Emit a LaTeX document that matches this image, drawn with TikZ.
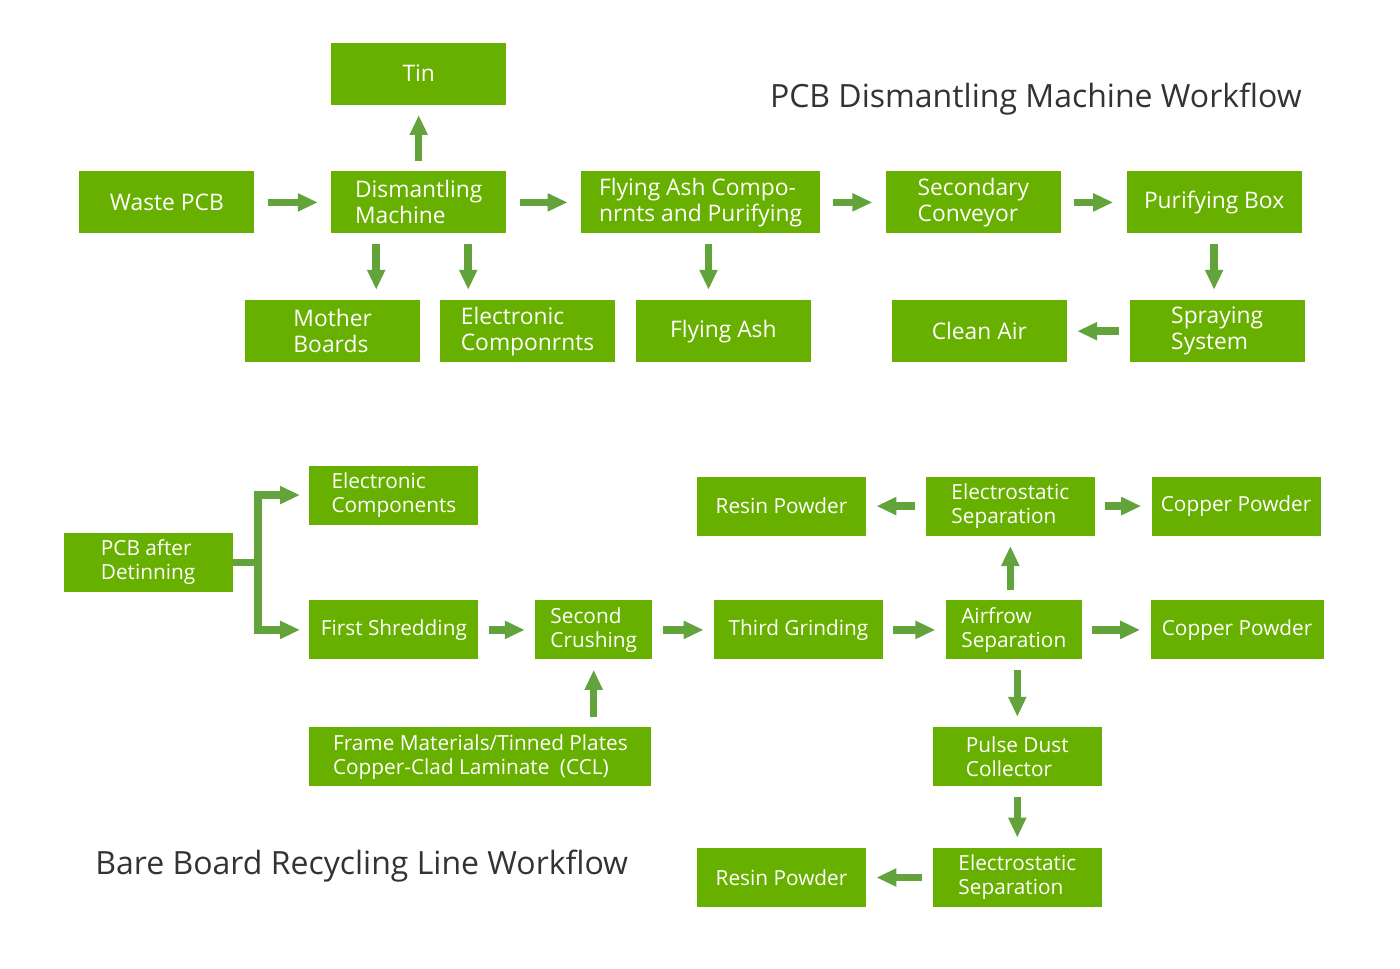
\documentclass[tikz,border=0pt]{standalone}
\usepackage{fontspec}
\setmainfont{Open Sans}
\usetikzlibrary{arrows.meta, positioning, calc}
\definecolor{boxgreen}{HTML}{67B000}
\definecolor{arrowgreen}{HTML}{62A33C}

\begin{document}
\begin{tikzpicture}[
  font=\fontsize{11.4}{13}\selectfont,
  box/.style   ={rectangle, fill=boxgreen, text=white, minimum width=87.5pt, minimum height=31pt,
                 inner sep=2pt, align=left},
  smallbox/.style={box, minimum width=84.5pt, minimum height=29.5pt, font=\fontsize{10.4}{12}\selectfont},
  title/.style ={font=\fontsize{16}{19}\selectfont, text=black!80, inner sep=0pt},
  arrow/.style ={draw=arrowgreen, line width=3.75pt, -{Triangle[length=10pt,width=8.5pt]},
                 shorten <=5pt, shorten >=5pt},
  wide/.style  ={arrow, shorten <=6.5pt, shorten >=6.5pt},
  branch/.style={arrow, shorten <=0pt, shorten >=4.5pt},
]
  \useasboundingbox (0,0) rectangle (700pt,-484pt);

  % dismantling machine
  \node[box, anchor=north west] (waste) at (39.5pt,-85.5pt) {Waste PCB};
  \node[box, right=38pt of waste]  (dism)   {Dismantling\\Machine};
  \node[box, above=33pt of dism]   (tin)    {Tin};
  \node[box, right=37pt of dism, minimum width=119.5pt] (flyc) {Flying Ash Compo-\\nrnts and Purifying};
  \node[box, right=32.5pt of flyc] (conv)   {Secondary\\Conveyor};
  \node[box, right=32.5pt of conv] (purify) {Purifying Box};
  \node[box, below=33pt of dism, xshift=-43pt] (mother) {Mother\\Boards};
  \node[box, right=9.5pt of mother] (elecA) {Electronic\\Componrnts};
  \node[box, right=10pt of elecA]   (ash)   {Flying Ash};
  \node[box, below=33pt of purify, xshift=1.5pt] (spray) {Spraying\\System};
  \node[box, left=31pt of spray]    (clean) {Clean Air};
  \node[title, anchor=east] (head1) at ([yshift=36pt]purify.north east) {PCB Dismantling Machine Workflow};

  \draw[wide] (waste) -- (dism);
  \draw[wide] (dism) -- (flyc);
  \draw[wide] (flyc) -- (conv);
  \draw[wide] (conv) -- (purify);
  \draw[arrow] (dism) -- (tin);
  \draw[arrow] ([xshift=-21.25pt]dism.south) -- ([xshift=-21.25pt]dism.south |- mother.north);
  \draw[arrow] ([xshift=24.75pt]dism.south) -- ([xshift=24.75pt]dism.south |- elecA.north);
  \draw[arrow] ([xshift=4pt]flyc.south) -- ([xshift=4pt]flyc.south |- ash.north);
  \draw[arrow] (purify.south) -- (purify.south |- spray.north);
  \draw[arrow] (spray) -- (clean);

  % bare board recycling line
  \node[smallbox, anchor=north west] (first) at (154.5pt,-300pt) {First Shredding};
  \node[smallbox, above=37.5pt of first] (elecB) {Electronic\\Components};
  \coordinate (forkmid) at ($(first.west)!.5!(elecB.west)$);
  \node[smallbox, left=38pt of forkmid] (pcbdet) {PCB after\\Detinning};
  \node[smallbox, right=28pt of first, minimum width=58.5pt] (crush) {Second\\Crushing};
  \node[smallbox, below=33.5pt of first.south west, anchor=north west, minimum width=171pt] (frame)
       {Frame Materials/Tinned Plates\\Copper-Clad Laminate\enspace(CCL)};
  \node[smallbox, right=30.5pt of crush] (grind) {Third Grinding};
  \node[smallbox, right=31pt of grind, minimum width=68pt] (airflow) {Airfrow\\Separation};
  \node[smallbox, right=34pt of airflow, minimum width=86.5pt] (copperB) {Copper Powder};
  \node[smallbox, above=32pt of airflow, xshift=-1.75pt] (estatA) {Electrostatic\\Separation};
  \node[smallbox, left=29.5pt of estatA] (resinA)  {Resin Powder};
  \node[smallbox, right=28pt of estatA]  (copperA) {Copper Powder};
  \node[smallbox, below=33.5pt of airflow, xshift=1.75pt] (pulse) {Pulse Dust\\Collector};
  \node[smallbox, below=30.5pt of pulse] (estatB) {Electrostatic\\Separation};
  \node[smallbox, left=33pt of estatB]   (resinB) {Resin Powder};
  \node[title, anchor=west] (head2) at (47.5pt,-433pt) {Bare Board Recycling Line Workflow};

  \draw[arrowgreen, line width=3.75pt] (pcbdet.east) -- ++(12.5pt,0) coordinate (fork);
  \draw[branch] (fork) |- (first.west);
  \draw[branch] (fork) |- (elecB.west);
  \draw[arrow] (first) -- (crush);
  \draw[arrow] (crush) -- (grind);
  \draw[arrow] (grind) -- (airflow);
  \draw[arrow] (airflow) -- (copperB);
  \draw[arrow] (frame.north -| crush) -- (crush.south);
  \draw[arrow] (airflow.north -| estatA) -- (estatA.south);
  \draw[arrow] (estatA) -- (resinA);
  \draw[arrow] (estatA) -- (copperA);
  \draw[arrow] (airflow.south -| pulse) -- (pulse.north);
  \draw[arrow] (pulse) -- (estatB);
  \draw[arrow] (estatB) -- (resinB);
\end{tikzpicture}
\end{document}
